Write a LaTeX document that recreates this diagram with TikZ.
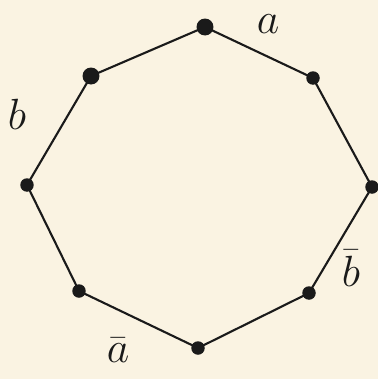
\documentclass[tikz,border=0pt]{standalone}
\usepackage{amsmath}
\usepackage{tikz}

\definecolor{paper}{HTML}{FAF3E2}
\definecolor{ink}{HTML}{1A1A1A}

\begin{document}
\begin{tikzpicture}[x=0.02cm, y=-0.02cm,
        vtx/.style={circle, fill=ink, inner sep=0pt, minimum size=0.27cm},
        side/.style={ink, line width=1.2pt},
        lbl/.style={ink, font=\fontsize{26}{26}\selectfont}]
        % --- background ---
        \fill[paper] (0,0) rectangle (378,379);
        \useasboundingbox (0,0) rectangle (378,379);

        % --- vertices ---
        \node[vtx, minimum size=0.34cm] (top) at (205,27) {};
        \node[vtx] (ur) at (313,78) {};
        \node[vtx] (r) at (372,187) {};
        \node[vtx] (lr) at (309,293) {};
        \node[vtx] (bot) at (198,348) {};
        \node[vtx] (ll) at (79,291) {};
        \node[vtx] (l) at (27,185) {};
        \node[vtx, minimum size=0.34cm] (ul) at (91,76) {};

        % --- sides ---
        \draw[side] (top.center) -- (ur.center) -- (r.center) -- (lr.center)
            -- (bot.center) -- (ll.center) -- (l.center) -- (ul.center) -- cycle;

        % --- labels ---
        \node[lbl] (la) at (268,24) {$a$};
        \node[lbl] (lb) at (17,114) {$b$};
        \node[lbl] (lbb) at (351,268) {$\bar{b}$};
        \node[lbl] (laa) at (118,350) {$\bar{a}$};
    \end{tikzpicture}
\end{document}
